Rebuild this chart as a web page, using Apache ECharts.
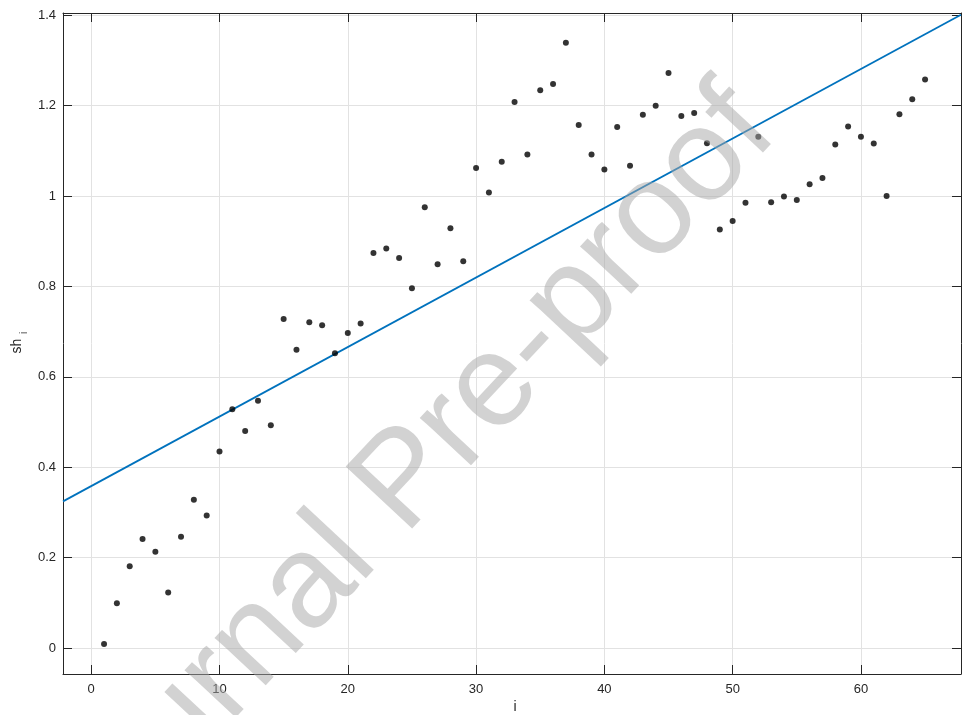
<!DOCTYPE html>
<html>
<head>
<meta charset="utf-8">
<script src="https://cdn.jsdelivr.net/npm/echarts@6/dist/echarts.min.js"></script>
<style>html,body{margin:0;padding:0;background:#fff}#c{width:962px;height:715px}</style>
</head>
<body>
<div id="c"></div>
<script>
const idx = [1,2,3,4,5,6,7,8,9,10,11,12,13,14,15,16,17,18,19,20,21,22,23,24,25,26,27,28,29,30,31,32,33,34,35,36,37,38,39,40,41,42,43,44,45,46,47,48,49,50,51,52,53,54,55,56,57,58,59,60,61,62,63,64,65];
const sh = [0.009,0.099,0.181,0.241,0.213,0.123,0.246,0.328,0.293,0.435,
            0.528,0.480,0.547,0.493,0.728,0.660,0.721,0.714,0.652,0.697,
            0.718,0.874,0.884,0.863,0.796,0.975,0.849,0.929,0.856,1.062,
            1.008,1.076,1.208,1.092,1.234,1.248,1.339,1.157,1.092,1.059,
            1.153,1.067,1.180,1.200,1.272,1.177,1.184,1.117,0.926,0.945,
            0.985,1.131,0.986,0.999,0.991,1.026,1.040,1.114,1.154,1.131,
            1.116,1.000,1.181,1.214,1.258];
const fitX = [-2.2, 67.8];
const fitY = [0.3245, 1.401];
const xTicks = [0,10,20,30,40,50,60];
const yTicks = [0,0.2,0.4,0.6,0.8,1,1.2,1.4];
const yTickLabels = ['0','0.2','0.4','0.6','0.8','1','1.2','1.4'];
const xRange = [-2.2, 67.8];
const yRange = [-0.0575, 1.405];

const FONT = '"Liberation Sans", Arial, Helvetica, sans-serif';
const AX = '#262626';
const GRIDC = '#e2e2e2';

const chart = echarts.init(document.getElementById('c'), null, {renderer:'canvas'});

function xAx(pos, main){
  return {
    type:'value', position:pos, min:xRange[0], max:xRange[1],
    axisLine:{show:true, onZero:false, lineStyle:{color:AX, width:1}},
    axisTick:{show:true, inside:true, length:9, customValues:xTicks, lineStyle:{color:AX, width:1}},
    axisLabel:{show:main, customValues:xTicks, color:AX, fontSize:13, fontFamily:FONT, margin:9},
    splitLine:{show:main, lineStyle:{color:GRIDC, width:1}}
  };
}
function yAx(pos, main){
  return {
    type:'value', position:pos, min:yRange[0], max:yRange[1],
    axisLine:{show:true, onZero:false, lineStyle:{color:AX, width:1}},
    axisTick:{show:true, inside:true, length:9, customValues:yTicks, lineStyle:{color:AX, width:1}},
    axisLabel:{show:main, customValues:yTicks, color:AX, fontSize:13, fontFamily:FONT, margin:7,
      formatter:function(v){ const k = yTicks.findIndex(t=>Math.abs(t-v)<1e-9); return k>=0 ? yTickLabels[k] : ''; }},
    splitLine:{show:main, lineStyle:{color:GRIDC, width:1}}
  };
}

const option = {
  animation:false,
  backgroundColor:'#ffffff',
  grid:{left:63, top:13, right:1, bottom:41, containLabel:false},
  xAxis:[xAx('bottom', true), xAx('top', false)],
  yAxis:[yAx('left', true), yAx('right', false)],
  series:[
    {
      type:'line', xAxisIndex:0, yAxisIndex:0,
      data: fitX.map((x,i)=>[x, fitY[i]]),
      showSymbol:false, symbol:'none',
      lineStyle:{color:'#0072BD', width:1.8},
      z:2, silent:true
    },
    {
      type:'scatter', xAxisIndex:0, yAxisIndex:0,
      data: idx.map((x,i)=>[x, sh[i]]),
      symbol:'circle', symbolSize:6,
      itemStyle:{color:'#000000'},
      z:3, silent:true
    }
  ],
  graphic:[
    {type:'text', x:17, y:346, rotation:Math.PI/2, z:50,
     style:{text:'sh', font:'14px '+FONT, fill:AX, textAlign:'center', textVerticalAlign:'middle', align:'center', verticalAlign:'middle'}},
    {type:'text', x:24.5, y:333, rotation:Math.PI/2, z:50,
     style:{text:'i', font:'10px '+FONT, fill:AX, textAlign:'center', textVerticalAlign:'middle', align:'center', verticalAlign:'middle'}},
    {type:'text', x:515, y:707, z:50,
     style:{text:'i', font:'14px '+FONT, fill:AX, textAlign:'center', textVerticalAlign:'middle', align:'center', verticalAlign:'middle'}},
    {type:'text', x:106, y:900, rotation:0.82, z:100, silent:true,
     style:{text:'Journal Pre-proof', font:'132px '+FONT, fill:'rgba(166,166,166,0.5)', textAlign:'left', textVerticalAlign:'bottom', align:'left', verticalAlign:'bottom'}}
  ]
};
chart.setOption(option);
</script>
</body>
</html>
